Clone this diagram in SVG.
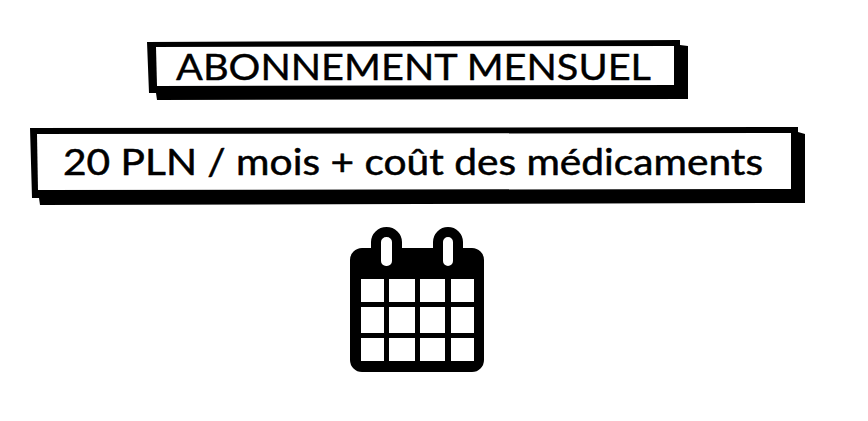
<svg xmlns="http://www.w3.org/2000/svg" width="868" height="421" viewBox="0 0 868 421">
<style>
.k{fill:#000}
.w{fill:#fff}
.t{font-family:"Lato","Noto Sans",sans-serif;font-weight:400;fill:#000;stroke:#000;stroke-linejoin:round;stroke-linecap:round}
</style>
<rect width="868" height="421" fill="#fff"/>
<g id="node-abonnement">
<path class="k" d="M147 42L680 40L680 45L688 46L688 99L157 100L156 93L149 93Z"/>
<path class="w" d="M156 47L674 46L674 85L157 86Z"/>
<text class="t" x="176" y="80" font-size="37" stroke-width=".4" textLength="475" lengthAdjust="spacingAndGlyphs">ABONNEMENT MENSUEL</text>
</g>
<g id="node-prix">
<path class="k" d="M30 128L798 127L798 132L805 134L805 203L420 204L40 205L39 198L32 198Z"/>
<path class="w" d="M37 134L791 133L791 189L38 190Z"/>
<text class="t" x="63" y="175" font-size="36" stroke-width=".5" textLength="700" lengthAdjust="spacingAndGlyphs">20 PLN / mois + coût des médicaments</text>
</g>
<g id="node-calendrier">
<path class="k" fill-rule="evenodd" d="M362 248H371V242A15.500 15 0 0 1 402 242V248H433V242A15 15 0 0 1 463 242V248H472A12 12 0 0 1 484 260V360A12 12 0 0 1 472 372H362A12 12 0 0 1 350 360V260A12 12 0 0 1 362 248Z
M386.500 237A5.500 5 0 0 0 381 242V261A5 5 0 0 0 386 266H387A5 5 0 0 0 392 261V242A5.500 5 0 0 0 386.500 237Z
M448 237A5 5 0 0 0 443 242V261A5 5 0 0 0 448 266A5 5 0 0 0 453 261V242A5 5 0 0 0 448 237Z"/>
<path class="w" d="M361 279h23v23h-23zM389 279h26v23h-26zM420 279h25v23h-25zM451 279h23v23h-23z
M361 307h23v26h-23zM389 307h26v26h-26zM420 307h25v26h-25zM451 307h23v26h-23z
M361 338h23v23h-23zM389 338h26v23h-26zM420 338h25v23h-25zM451 338h23v23h-23z"/>
</g>
</svg>
